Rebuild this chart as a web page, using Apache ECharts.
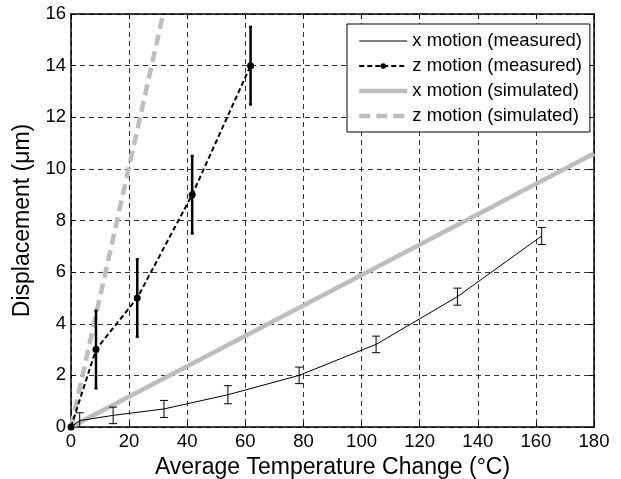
<!DOCTYPE html>
<html><head><meta charset="utf-8">
<script src="https://cdn.jsdelivr.net/npm/echarts@6/dist/echarts.min.js"></script>
<style>html,body{margin:0;padding:0;background:#fff}#c{width:621px;height:479px}</style>
</head><body><div id="c"></div>
<script>
const xTicks = [0, 20, 40, 60, 80, 100, 120, 140, 160, 180];
const yTicks = [0, 2, 4, 6, 8, 10, 12, 14, 16];
const seriesNames = ['x motion (measured)', 'z motion (measured)', 'x motion (simulated)', 'z motion (simulated)'];
const xMeasT = [0, 3, 14.5, 32, 54, 78.5, 105, 133, 162];
const xMeasD = [0, 0.25, 0.45, 0.7, 1.25, 2.0, 3.2, 5.05, 7.4];
const xMeasErr = [0, 0.3, 0.32, 0.33, 0.35, 0.32, 0.32, 0.33, 0.33];
const zMeasT = [0, 8.6, 22.8, 41.7, 61.8];
const zMeasD = [0, 3, 5, 9, 14];
const zMeasErr = [0, 1.5, 1.5, 1.5, 1.5];
const xSimT = [0, 180];
const xSimD = [0, 10.6];
const zSimT = [0, 31.7];
const zSimD = [0, 16];

const FONT = 'Liberation Sans, Arial, sans-serif';
const zip = (a, b) => a.map((v, i) => [v, b[i]]);
const zip3 = (a, b, c) => a.map((v, i) => [v, b[i], c[i]]).filter(d => d[2] > 0);

function errRender(cap, width) {
  return function (params, api) {
    const x = api.value(0), y = api.value(1), e = api.value(2);
    const lo = Math.max(y - e, 0);
    const top = api.coord([x, y + e]);
    const bot = api.coord([x, lo]);
    const st = { stroke: '#000', lineWidth: width };
    const ch = [
      { type: 'line', shape: { x1: top[0], y1: top[1], x2: bot[0], y2: bot[1] }, style: st },
      { type: 'line', shape: { x1: top[0] - cap, y1: top[1], x2: top[0] + cap, y2: top[1] }, style: st }
    ];
    if (y - e >= 0) ch.push({ type: 'line', shape: { x1: bot[0] - cap, y1: bot[1], x2: bot[0] + cap, y2: bot[1] }, style: st });
    return { type: 'group', children: ch };
  };
}

const chart = echarts.init(document.getElementById('c'), null, { renderer: 'canvas' });
const grid = { left: 71, right: 27, top: 14, bottom: 52, containLabel: false, outerBoundsMode: 'none' };
const axisCommon = {
  axisLine: { show: true, onZero: false, lineStyle: { color: '#000', width: 1.5 } },
  axisTick: { show: true, inside: true, length: 5, lineStyle: { color: '#000', width: 1 } },
};
chart.setOption({
  animation: false,
  textStyle: { fontFamily: FONT },
  grid: grid,
  legend: {
    data: [
      { name: seriesNames[0], itemStyle: { opacity: 0 }, lineStyle: { width: 1 } },
      { name: seriesNames[1], lineStyle: { width: 2 } },
      { name: seriesNames[2], itemStyle: { opacity: 0 }, lineStyle: { width: 4.5 } },
      { name: seriesNames[3], itemStyle: { opacity: 0 }, lineStyle: { width: 4.5 } }
    ],
    orient: 'vertical',
    left: 347, top: 24,
    itemWidth: 48, itemHeight: 7, itemGap: 5,
    padding: [7, 8, 6, 10],
    backgroundColor: '#fff',
    borderColor: '#000', borderWidth: 1,
    textStyle: { fontFamily: FONT, fontSize: 18.5, lineHeight: 20, color: '#000' }
  },
  xAxis: [{
    type: 'value', min: 0, max: 180, interval: 20,
    name: 'Average Temperature Change (°C)', nameLocation: 'middle', nameGap: 25,
    nameTextStyle: { fontFamily: FONT, fontSize: 23, color: '#000' },
    ...axisCommon,
    axisLabel: { color: '#000', fontSize: 18.5, fontFamily: FONT, margin: 5 },
    splitLine: { show: true, lineStyle: { color: '#333', type: [5, 4], width: 1 } }
  }, {
    type: 'value', min: 0, max: 180, interval: 20, position: 'top',
    ...axisCommon, axisLabel: { show: false }, splitLine: { show: false }
  }],
  yAxis: [{
    type: 'value', min: 0, max: 16, interval: 2,
    name: 'Displacement (μm)', nameLocation: 'middle', nameGap: 35,
    nameTextStyle: { fontFamily: FONT, fontSize: 23, color: '#000' },
    ...axisCommon,
    axisLabel: { color: '#000', fontSize: 18.5, fontFamily: FONT, margin: 5 },
    splitLine: { show: true, lineStyle: { color: '#333', type: [5, 4], width: 1 } }
  }, {
    type: 'value', min: 0, max: 16, interval: 2, position: 'right',
    ...axisCommon, axisLabel: { show: false }, splitLine: { show: false }
  }],
  series: [
    {
      name: seriesNames[2], type: 'line', data: zip(xSimT, xSimD), symbol: 'none',
      lineStyle: { color: '#bdbdbd', width: 4.5 }, itemStyle: { color: '#bdbdbd' }, z: 2
    },
    {
      name: seriesNames[3], type: 'line', data: zip(zSimT, zSimD), symbol: 'none',
      lineStyle: { color: '#bdbdbd', width: 4.5, type: [11, 6] }, itemStyle: { color: '#bdbdbd' }, z: 2
    },
    {
      name: seriesNames[0], type: 'line', data: zip(xMeasT, xMeasD), symbol: 'none',
      lineStyle: { color: '#000', width: 1 }, itemStyle: { color: '#000' }, z: 3
    },
    {
      name: seriesNames[1], type: 'line', data: zip(zMeasT, zMeasD), symbol: 'circle', symbolSize: 7,
      lineStyle: { color: '#000', width: 2, type: [5, 3] }, itemStyle: { color: '#000' }, z: 4
    },
    {
      type: 'custom', name: 'xerr', data: zip3(xMeasT, xMeasD, xMeasErr),
      renderItem: errRender(4, 1), z: 5
    },
    {
      type: 'custom', name: 'zerr', data: zip3(zMeasT, zMeasD, zMeasErr),
      renderItem: errRender(1.5, 2.5), z: 5
    }
  ]
});
</script></body></html>
